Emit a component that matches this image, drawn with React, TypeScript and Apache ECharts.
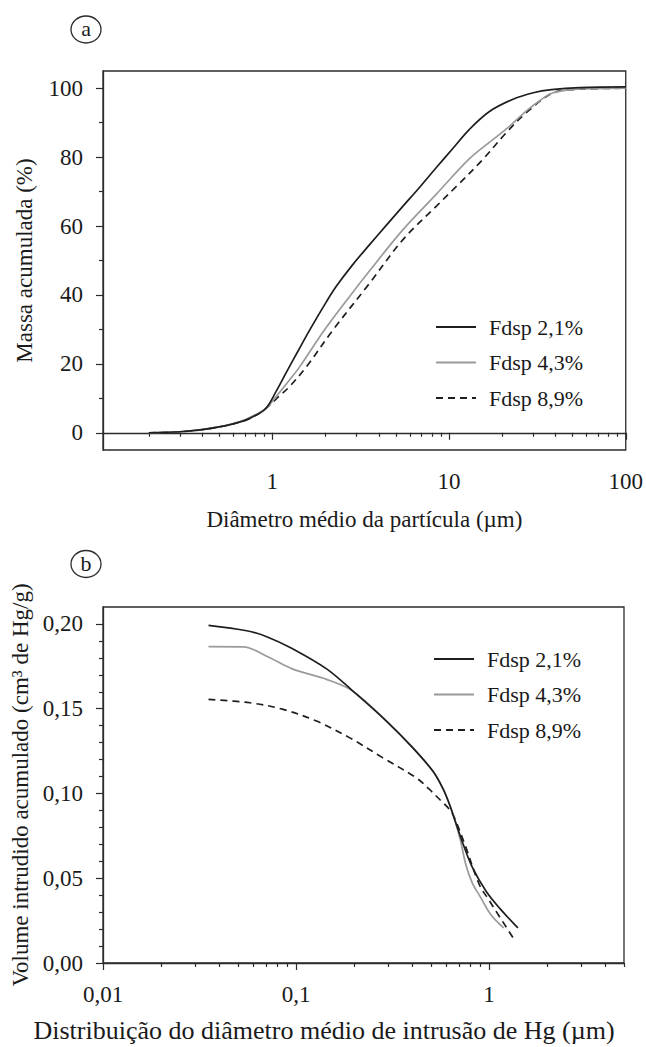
import React, { useEffect, useRef } from 'react';
import * as echarts from 'echarts';

// ---------- Chart (a): cumulative mass vs particle diameter ----------
const seriesNames = ['Fdsp 2,1%', 'Fdsp 4,3%', 'Fdsp 8,9%'];

const aMajorTicks = [1, 10, 100];
const aMinorTicks = [0.2, 0.3, 0.4, 0.5, 0.6, 0.7, 0.8, 0.9, 2, 3, 4, 5, 6, 7, 8, 9, 20, 30, 40, 50, 60, 70, 80, 90];
const aYMajor = [0, 20, 40, 60, 80, 100];
const aYMinor = [10, 30, 50, 70, 90];

const a21X = [0.2, 0.3, 0.4, 0.5, 0.6, 0.7, 0.8, 0.92, 1.05, 1.21, 1.4, 1.625, 2.02, 2.3, 2.85, 3.55, 4.41, 5.47, 6.8, 8.45, 10.5, 13, 17, 23, 30, 38, 55, 100];
const a21Y = [0, 0.3, 0.9, 1.7, 2.6, 3.6, 5.0, 7.1, 12.0, 17.9, 23.8, 29.8, 38.0, 42.5, 48.8, 54.6, 60.2, 65.7, 71.2, 76.9, 82.5, 88.0, 93.3, 96.8, 98.7, 99.6, 100.2, 100.4];

const a43X = [0.2, 0.3, 0.4, 0.5, 0.6, 0.7, 0.8, 0.92, 1.05, 1.25, 1.43, 1.97, 2.73, 3.55, 5.47, 8.45, 13, 16.9, 21.8, 27.2, 33, 38.5, 50, 100];
const a43Y = [0, 0.3, 0.9, 1.7, 2.7, 3.8, 5.2, 7.1, 10.5, 15.3, 19.2, 29.8, 39.5, 47.0, 58.9, 69.2, 79.5, 84.3, 88.8, 93.3, 96.6, 98.6, 99.6, 100];

const a89X = [0.2, 0.3, 0.4, 0.5, 0.6, 0.7, 0.8, 0.92, 1.05, 1.25, 1.56, 2.2, 3.55, 5.47, 8.45, 11, 15.5, 21, 27.2, 38.5, 50, 100];
const a89Y = [0, 0.3, 0.9, 1.7, 2.6, 3.6, 5.0, 7.1, 9.8, 13.4, 19.2, 29.8, 43.4, 56.0, 65.7, 71.5, 79.3, 87, 92.8, 98.6, 99.6, 100];

// ---------- Chart (b): cumulative intruded volume vs pore diameter ----------
const bMajorTicks = [0.01, 0.1, 1];
const bMinorTicks = [0.02, 0.03, 0.04, 0.05, 0.06, 0.07, 0.08, 0.09, 0.2, 0.3, 0.4, 0.5, 0.6, 0.7, 0.8, 0.9, 2, 3, 4, 5];
const bYMajor = [0, 0.05, 0.1, 0.15, 0.2];
const bYMinor = [0.01, 0.02, 0.03, 0.04, 0.06, 0.07, 0.08, 0.09, 0.11, 0.12, 0.13, 0.14, 0.16, 0.17, 0.18, 0.19];

const b21X = [0.0352, 0.0555, 0.0705, 0.0955, 0.144, 0.197, 0.294, 0.403, 0.511, 0.576, 0.624, 0.662, 0.74, 0.822, 0.965, 1.13, 1.41];
const b21Y = [0.1992, 0.196, 0.1925, 0.1855, 0.1735, 0.1604, 0.1427, 0.1269, 0.1132, 0.103, 0.0935, 0.085, 0.069, 0.0561, 0.0423, 0.0325, 0.0207];

const b43X = [0.0352, 0.0533, 0.0705, 0.0955, 0.144, 0.197, 0.294, 0.403, 0.511, 0.576, 0.624, 0.662, 0.71, 0.76, 0.82, 0.89, 1.02, 1.19];
const b43Y = [0.1866, 0.1865, 0.181, 0.1735, 0.1673, 0.1604, 0.1427, 0.1269, 0.1132, 0.103, 0.0935, 0.085, 0.0725, 0.0575, 0.047, 0.04, 0.0286, 0.0207];

const b89X = [0.0352, 0.0577, 0.0857, 0.1277, 0.19, 0.282, 0.42, 0.49, 0.56, 0.624, 0.662, 0.76, 0.89, 1.0, 1.35];
const b89Y = [0.1555, 0.1535, 0.1496, 0.1427, 0.1328, 0.121, 0.1092, 0.1025, 0.096, 0.0905, 0.0856, 0.0679, 0.0463, 0.037, 0.0138];

const zip = (xs: number[], ys: number[]) => xs.map((x, i) => [x, ys[i]]);

const FONT = 'Liberation Serif';
const TEXT = '#1a1a1a';
const AXIS = '#2b2b2b';
const tickText = { fontFamily: FONT, fontSize: 23, color: TEXT };
const titleText = { fontFamily: FONT, fontSize: 23, color: TEXT };

const commaFmt = (v: number) => String(v).replace('.', ',');

export default function App() {
  const ref = useRef<HTMLDivElement>(null);
  useEffect(() => {
    if (!ref.current) return;
    const chart = echarts.init(ref.current, undefined, { renderer: 'svg' });

    const axisLine = { show: true, lineStyle: { color: AXIS, width: 1.3 } };
    const mkMajorX = (grid: number, min: number, max: number, ticks: number[], name: string, nameGap: number, nameStyle: any, fmt: (v: number) => string) => ({
      type: 'log', gridIndex: grid, position: 'bottom', min, max, logBase: 10,
      axisLine, splitLine: { show: false },
      axisTick: { show: true, length: 7, customValues: ticks, lineStyle: { color: AXIS, width: 1.2 } },
      axisLabel: { show: true, customValues: ticks, margin: 20, formatter: fmt, ...tickText },
      name, nameLocation: 'middle', nameGap,
      nameTextStyle: nameStyle,
    });
    const mkMinorX = (grid: number, min: number, max: number, ticks: number[]) => ({
      type: 'log', gridIndex: grid, position: 'bottom', min, max, logBase: 10,
      axisLine: { show: false }, splitLine: { show: false },
      axisTick: { show: true, length: 4, customValues: ticks, lineStyle: { color: AXIS, width: 1.2 } },
      axisLabel: { show: false },
    });
    const mkMajorY = (grid: number, min: number, max: number, ticks: number[], name: string, fmt: (v: number) => string) => ({
      type: 'value', gridIndex: grid, position: 'left', min, max,
      axisLine, splitLine: { show: false },
      axisTick: { show: true, length: 7, customValues: ticks, lineStyle: { color: AXIS, width: 1.2 } },
      axisLabel: { show: true, customValues: ticks, margin: 20, formatter: fmt, ...tickText },
      name, nameLocation: 'middle', nameGap: 67,
      nameTextStyle: { ...titleText },
    });
    const mkMinorY = (grid: number, min: number, max: number, ticks: number[]) => ({
      type: 'value', gridIndex: grid, position: 'left', min, max,
      axisLine: { show: false }, splitLine: { show: false },
      axisTick: { show: true, length: 4, customValues: ticks, lineStyle: { color: AXIS, width: 1.2 } },
      axisLabel: { show: false },
    });

    const styles = [
      { color: '#1e1e1e', type: 'solid' },
      { color: '#9a9a9a', type: 'solid' },
      { color: '#1e1e1e', type: [7, 5] },
    ];
    const mkSeries = (name: string, data: number[][], idx: number, axisIdx: number) => ({
      type: 'line', name, data, xAxisIndex: axisIdx, yAxisIndex: axisIdx,
      symbol: 'none', smooth: 0.35,
      lineStyle: { color: styles[idx].color, width: 1.7, type: styles[idx].type },
      itemStyle: { color: styles[idx].color },
      emphasis: { disabled: true },
      z: 3 - idx,
    });

    const legendCommon = {
      orient: 'vertical', itemWidth: 40, itemHeight: 14, itemGap: 13.5, padding: 0,
      selectedMode: false, data: seriesNames,
      itemStyle: { color: 'rgba(0,0,0,0)', borderWidth: 0, opacity: 0 },
      textStyle: { fontFamily: FONT, fontSize: 22, color: TEXT, padding: [0, 0, 0, 8] },
    };

    chart.setOption({
      animation: false,
      backgroundColor: '#ffffff',
      grid: [
        { left: 103, top: 71, width: 524, height: 379, show: true, borderColor: AXIS, borderWidth: 1.3, backgroundColor: 'transparent' },
        { left: 103, top: 607, width: 521, height: 356, show: true, borderColor: AXIS, borderWidth: 1.3, backgroundColor: 'transparent' },
      ],
      xAxis: [
        mkMajorX(0, 0.11, 100, aMajorTicks, 'Diâmetro médio da partícula (µm)', 58, { ...titleText }, (v: number) => String(v)),
        mkMinorX(0, 0.11, 100, aMinorTicks),
        mkMajorX(1, 0.01, 5, bMajorTicks, 'Distribuição do diâmetro médio de intrusão de Hg (µm)', 54,
          { fontFamily: FONT, fontSize: 26, color: TEXT, padding: [0, 79, 0, 0] }, commaFmt),
        mkMinorX(1, 0.01, 5, bMinorTicks),
      ],
      yAxis: [
        mkMajorY(0, -5, 105, aYMajor, 'Massa acumulada (%)', (v: number) => String(v)),
        mkMinorY(0, -5, 105, aYMinor),
        mkMajorY(1, 0, 0.21, bYMajor, 'Volume intrudido acumulado (cm³ de Hg/g)', (v: number) => v.toFixed(2).replace('.', ',')),
        mkMinorY(1, 0, 0.21, bYMinor),
      ],
      legend: [
        { ...legendCommon, left: 435, top: 316 },
        { ...legendCommon, left: 433, top: 648 },
      ],
      series: [
        mkSeries(seriesNames[0], zip(a21X, a21Y), 0, 0),
        mkSeries(seriesNames[1], zip(a43X, a43Y), 1, 0),
        mkSeries(seriesNames[2], zip(a89X, a89Y), 2, 0),
        mkSeries(seriesNames[0], zip(b21X, b21Y), 0, 2),
        mkSeries(seriesNames[1], zip(b43X, b43Y), 1, 2),
        mkSeries(seriesNames[2], zip(b89X, b89Y), 2, 2),
      ],
      graphic: [
        { type: 'ellipse', shape: { cx: 86, cy: 29.5, rx: 15, ry: 13.5 }, style: { fill: 'none', stroke: AXIS, lineWidth: 1.3 } },
        { type: 'text', x: 86, y: 28.5, style: { text: 'a', font: `22px "${FONT}"`, fill: TEXT, align: 'center', verticalAlign: 'middle' } },
        { type: 'ellipse', shape: { cx: 86, cy: 564, rx: 15, ry: 13.5 }, style: { fill: 'none', stroke: AXIS, lineWidth: 1.3 } },
        { type: 'text', x: 86, y: 563, style: { text: 'b', font: `22px "${FONT}"`, fill: TEXT, align: 'center', verticalAlign: 'middle' } },
      ],
    });
    return () => chart.dispose();
  }, []);
  return <div ref={ref} style={{ position: 'absolute', left: 0, top: 0, width: 646, height: 1047 }} />;
}
